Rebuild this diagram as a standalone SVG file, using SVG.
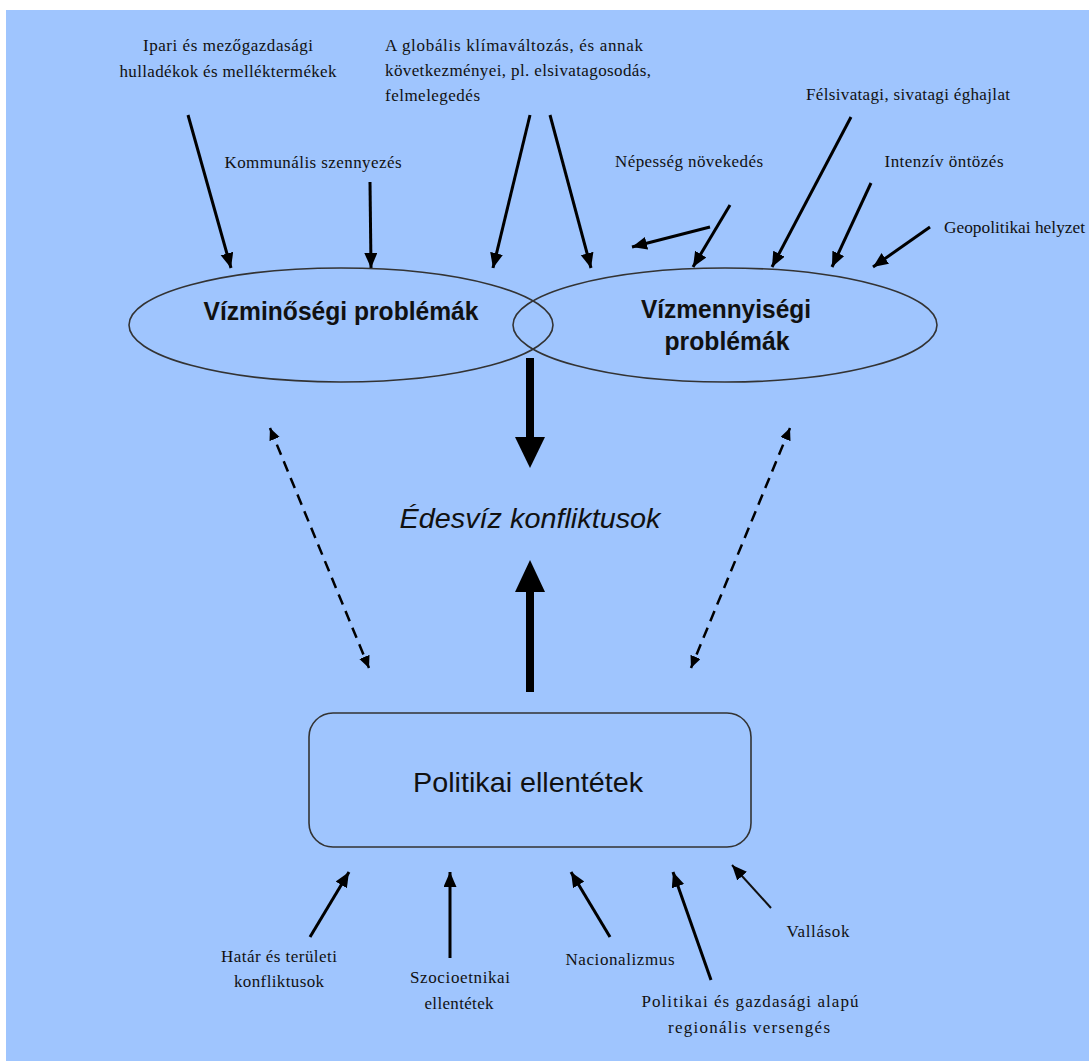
<svg xmlns="http://www.w3.org/2000/svg" width="1089" height="1061" viewBox="0 0 1089 1061">
<style>
.serif{font-family:"Liberation Serif","Times New Roman",serif;font-size:17px;fill:#111;}
.sansb{font-family:"Liberation Sans",Arial,sans-serif;font-weight:bold;font-size:26px;fill:#111;}
.sans{font-family:"Liberation Sans",Arial,sans-serif;font-size:28px;fill:#111;}
.shape{fill:none;stroke:#333;stroke-width:1.6;}
.arr{stroke:#000;stroke-width:3;fill:none;marker-end:url(#head);}
.arrthin{stroke:#111;stroke-width:2;fill:none;marker-end:url(#head);}
.dash{stroke:#000;stroke-width:2.5;fill:none;stroke-dasharray:11 7;marker-start:url(#small);marker-end:url(#small);}
</style>
<defs>
<marker id="head" markerUnits="userSpaceOnUse" markerWidth="16" markerHeight="14" refX="15" refY="6.5" orient="auto">
<path d="M0,0 L15,6.5 L0,13 z" fill="#000"/>
</marker>
<marker id="small" markerUnits="userSpaceOnUse" markerWidth="13" markerHeight="12" refX="12" refY="5.5" orient="auto-start-reverse">
<path d="M0,0 L12,5.5 L0,11 z" fill="#000"/>
</marker>
</defs>
<rect x="6" y="10" width="1083" height="1051" fill="#9fc5fe"/>

<g id="connectors">
<line class="arr" x1="188" y1="115" x2="231" y2="268"/>
<line class="arr" x1="370" y1="182" x2="371" y2="268"/>
<line class="arr" x1="530" y1="115" x2="493" y2="268"/>
<line class="arr" x1="550" y1="115" x2="591" y2="268"/>
<line class="arr" x1="730" y1="205" x2="693" y2="267"/>
<line class="arr" x1="710" y1="227" x2="632" y2="247"/>
<line class="arr" x1="851" y1="117" x2="772" y2="267"/>
<line class="arr" x1="871" y1="183" x2="832" y2="267"/>
<line class="arr" x1="930" y1="227" x2="873" y2="267"/>
<rect x="526" y="358" width="8" height="82" fill="#000"/>
<polygon points="515,437 545,437 530,468" fill="#000"/>
<polygon points="515,592 545,592 530,560" fill="#000"/>
<rect x="526" y="590" width="8" height="102" fill="#000"/>
<line class="dash" x1="270" y1="428" x2="369" y2="668"/>
<line class="dash" x1="790" y1="428" x2="691" y2="668"/>
<line class="arr" x1="310" y1="937" x2="349" y2="872"/>
<line class="arr" x1="450" y1="958" x2="450" y2="872"/>
<line class="arr" x1="610" y1="937" x2="571" y2="872"/>
<line class="arr" x1="711" y1="980" x2="673" y2="872"/>
<line class="arrthin" x1="771" y1="908" x2="732" y2="865"/>
</g>

<g id="node-vizminoseg">
<ellipse class="shape" cx="341" cy="325" rx="212" ry="57"/>
<text class="sansb" x="341" y="320" text-anchor="middle" textLength="275" lengthAdjust="spacingAndGlyphs">Vízminőségi problémák</text>
</g>
<g id="node-vizmennyiseg">
<ellipse class="shape" cx="725" cy="325" rx="212" ry="57"/>
<text class="sansb" x="726" y="318" text-anchor="middle" textLength="170" lengthAdjust="spacingAndGlyphs">Vízmennyiségi</text>
<text class="sansb" x="727" y="350" text-anchor="middle" textLength="125" lengthAdjust="spacingAndGlyphs">problémák</text>
</g>
<g id="node-edesviz">
<text class="sans" x="530" y="528" text-anchor="middle" font-style="italic" textLength="261" lengthAdjust="spacingAndGlyphs">Édesvíz konfliktusok</text>
</g>
<g id="node-politikai">
<rect class="shape" x="309" y="713" width="442" height="134" rx="24" ry="24" stroke-width="2"/>
<text class="sans" x="528" y="792" text-anchor="middle" textLength="230" lengthAdjust="spacingAndGlyphs">Politikai ellentétek</text>
</g>

<g id="node-ipari">
<text class="serif" x="228" y="51" text-anchor="middle" textLength="170">Ipari és mezőgazdasági</text>
<text class="serif" x="228" y="77" text-anchor="middle" textLength="217">hulladékok és melléktermékek</text>
</g>
<g id="node-globalis">
<text class="serif" x="385" y="51" textLength="258">A globális klímaváltozás, és annak</text>
<text class="serif" x="385" y="76" textLength="266">következményei, pl. elsivatagosodás,</text>
<text class="serif" x="385" y="101" textLength="95">felmelegedés</text>
</g>
<g id="node-kommunalis">
<text class="serif" x="313" y="168" text-anchor="middle" textLength="177">Kommunális szennyezés</text>
</g>
<g id="node-felsivatagi">
<text class="serif" x="908" y="100" text-anchor="middle" textLength="204">Félsivatagi, sivatagi éghajlat</text>
</g>
<g id="node-nepesseg">
<text class="serif" x="689" y="167" text-anchor="middle" textLength="148">Népesség növekedés</text>
</g>
<g id="node-intenziv">
<text class="serif" x="944" y="167" text-anchor="middle" textLength="119">Intenzív öntözés</text>
</g>
<g id="node-geopolitikai">
<text class="serif" x="944" y="233" textLength="141" lengthAdjust="spacingAndGlyphs">Geopolitikai helyzet</text>
</g>
<g id="node-hatar">
<text class="serif" x="279" y="962" text-anchor="middle" textLength="116">Határ és területi</text>
<text class="serif" x="279" y="987" text-anchor="middle" textLength="90">konfliktusok</text>
</g>
<g id="node-szocio">
<text class="serif" x="460" y="983" text-anchor="middle" textLength="100">Szocioetnikai</text>
<text class="serif" x="459" y="1009" text-anchor="middle" textLength="69">ellentétek</text>
</g>
<g id="node-nacionalizmus">
<text class="serif" x="620" y="965" text-anchor="middle" textLength="109">Nacionalizmus</text>
</g>
<g id="node-politgazd">
<text class="serif" x="750" y="1007" text-anchor="middle" textLength="217">Politikai és gazdasági alapú</text>
<text class="serif" x="749" y="1033" text-anchor="middle" textLength="162">regionális versengés</text>
</g>
<g id="node-vallasok">
<text class="serif" x="818" y="937" text-anchor="middle" textLength="63">Vallások</text>
</g>
</svg>
